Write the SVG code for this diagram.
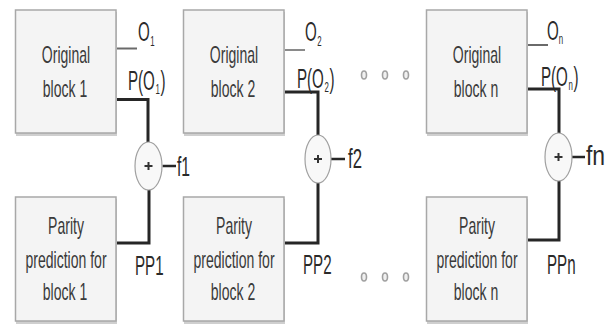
<svg xmlns="http://www.w3.org/2000/svg" width="609" height="324" viewBox="0 0 609 324">
<style>
.blk{fill:#f4f4f4;stroke:#a8a8a8;stroke-width:1.5}
.shd{fill:#cfcfcf}
.bt{font-family:"Liberation Sans",Arial,sans-serif;font-size:23px;fill:#3a3a3a;text-anchor:middle}
.lb{font-family:"Liberation Sans",Arial,sans-serif;font-size:27px;fill:#2a2a2a}
.sub{font-family:"Liberation Sans",Arial,sans-serif;font-size:14px;fill:#2a2a2a}
.thick{fill:none;stroke:#262626;stroke-width:3}
.thin{fill:none;stroke:#6a6a6a;stroke-width:2}
.fl{fill:none;stroke:#262626;stroke-width:2.5}
.xor{fill:#f8f8f8;stroke:#a0a0a0;stroke-width:1.2}
.plus{fill:none;stroke:#333;stroke-width:2}
.dot{fill:#f0f0f0;stroke:#a0a0a0;stroke-width:1.6}
</style>
<rect width="609" height="324" fill="#ffffff"/>

<g id="connectors">
  <path class="thin" d="M116 48.5 H137"/>
  <path class="thick" d="M116 99.5 H148 V142"/>
  <path class="thick" d="M116 243 H149 V190"/>
  <path class="fl" d="M162.5 166 H176"/>
  <path class="thin" d="M284 50 H305" style="stroke:#8a8a8a"/>
  <path class="thick" d="M284 92 H318 V135"/>
  <path class="thick" d="M284 243 H318 V183"/>
  <path class="fl" d="M331 159 H345"/>
  <path class="thin" d="M527 45 H548"/>
  <path class="thick" d="M527 89 H559 V133"/>
  <path class="thick" d="M527 240 H559 V181"/>
  <path class="fl" d="M572 157 H585"/>
</g>

<g id="orig1">
  <rect class="shd" x="16" y="12" width="101" height="124"/>
  <rect class="blk" x="15.5" y="10" width="100.5" height="123"/>
  <g transform="translate(66 0) scale(0.61 1)">
    <text class="bt" x="0" y="63">Original</text>
    <text class="bt" x="-1.6" y="97">block 1</text>
  </g>
</g>
<g id="parity1">
  <rect class="shd" x="16" y="199" width="101" height="125"/>
  <rect class="blk" x="15.5" y="197" width="100.5" height="124"/>
  <g transform="translate(66 0) scale(0.61 1)">
    <text class="bt" x="0" y="234">Parity</text>
    <text class="bt" x="0" y="268">prediction for</text>
    <text class="bt" x="-1.6" y="300">block 1</text>
  </g>
</g>
<g id="orig2">
  <rect class="shd" x="184" y="12" width="101" height="124"/>
  <rect class="blk" x="183.5" y="10" width="100.5" height="123"/>
  <g transform="translate(234 0) scale(0.61 1)">
    <text class="bt" x="0" y="63">Original</text>
    <text class="bt" x="-1.6" y="97">block 2</text>
  </g>
</g>
<g id="parity2">
  <rect class="shd" x="184" y="199" width="101" height="125"/>
  <rect class="blk" x="183.5" y="197" width="100.5" height="124"/>
  <g transform="translate(234 0) scale(0.61 1)">
    <text class="bt" x="0" y="234">Parity</text>
    <text class="bt" x="0" y="268">prediction for</text>
    <text class="bt" x="-1.6" y="300">block 2</text>
  </g>
</g>
<g id="orign">
  <rect class="shd" x="427" y="12" width="101" height="124"/>
  <rect class="blk" x="426.5" y="10" width="100.5" height="123"/>
  <g transform="translate(477 0) scale(0.61 1)">
    <text class="bt" x="0" y="63">Original</text>
    <text class="bt" x="-1.6" y="97">block n</text>
  </g>
</g>
<g id="parityn">
  <rect class="shd" x="427" y="199" width="101" height="125"/>
  <rect class="blk" x="426.5" y="197" width="100.5" height="124"/>
  <g transform="translate(477 0) scale(0.61 1)">
    <text class="bt" x="0" y="234">Parity</text>
    <text class="bt" x="0" y="268">prediction for</text>
    <text class="bt" x="-1.6" y="300">block n</text>
  </g>
</g>

<g id="xor1">
  <ellipse class="xor" cx="148.5" cy="166" rx="13.5" ry="24"/>
  <path class="plus" d="M144.5 166 H152.5 M148.5 162 V170"/>
</g>
<g id="xor2">
  <ellipse class="xor" cx="318" cy="159" rx="13" ry="24"/>
  <path class="plus" d="M314 159 H322 M318 155 V163"/>
</g>
<g id="xorn">
  <ellipse class="xor" cx="558.5" cy="157" rx="13.5" ry="24"/>
  <path class="plus" d="M554.5 157 H562.5 M558.5 153 V161"/>
</g>

<g id="labels">
  <g transform="translate(138 0) scale(0.56 1)">
    <text class="lb" x="0" y="41">O</text>
    <text class="sub" x="22" y="46">1</text>
  </g>
  <g transform="translate(128 0) scale(0.56 1)">
    <text class="lb" x="0" y="90">P(O</text>
    <text class="sub" x="49" y="94">1</text>
    <text class="lb" x="58" y="90">)</text>
  </g>
  <g transform="translate(135 0) scale(0.56 1)">
    <text class="lb" x="0" y="275">PP1</text>
  </g>
  <g transform="translate(177 0) scale(0.58 1)">
    <text class="lb" x="0" y="176">f1</text>
  </g>

  <g transform="translate(305 0) scale(0.56 1)">
    <text class="lb" x="0" y="41">O</text>
    <text class="sub" x="22" y="46">2</text>
  </g>
  <g transform="translate(297 0) scale(0.56 1)">
    <text class="lb" x="0" y="88">P(O</text>
    <text class="sub" x="49" y="92">2</text>
    <text class="lb" x="58" y="88">)</text>
  </g>
  <g transform="translate(303 0) scale(0.56 1)">
    <text class="lb" x="0" y="274">PP2</text>
  </g>
  <g transform="translate(348 0) scale(0.62 1)">
    <text class="lb" x="0" y="168">f2</text>
  </g>

  <g transform="translate(547 0) scale(0.56 1)">
    <text class="lb" x="0" y="40">O</text>
    <text class="sub" x="21" y="44">n</text>
  </g>
  <g transform="translate(541 0) scale(0.56 1)">
    <text class="lb" x="0" y="86">P(O</text>
    <text class="sub" x="49" y="90">n</text>
    <text class="lb" x="58" y="86">)</text>
  </g>
  <g transform="translate(547 0) scale(0.56 1)">
    <text class="lb" x="0" y="274">PPn</text>
  </g>
  <g transform="translate(586 0) scale(0.85 1)">
    <text class="lb" x="0" y="165">fn</text>
  </g>
</g>

<g id="ellipsis">
  <ellipse class="dot" cx="364" cy="75" rx="2.5" ry="4"/>
  <ellipse class="dot" cx="385" cy="75" rx="2.5" ry="4"/>
  <ellipse class="dot" cx="406" cy="75" rx="2.5" ry="4"/>
  <ellipse class="dot" cx="364" cy="277" rx="2.5" ry="4"/>
  <ellipse class="dot" cx="385" cy="277" rx="2.5" ry="4"/>
  <ellipse class="dot" cx="406" cy="277" rx="2.5" ry="4"/>
</g>
</svg>
